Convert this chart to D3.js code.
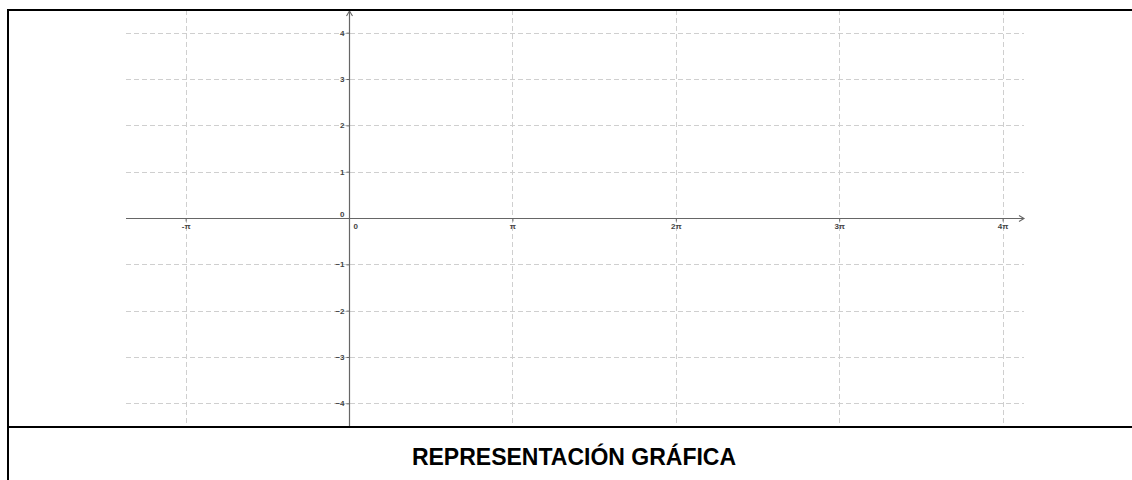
<!DOCTYPE html>
<html>
<head>
<meta charset="utf-8">
<script src="https://cdn.jsdelivr.net/npm/d3@7"></script>
<style>
  html, body { margin: 0; padding: 0; background: #fff; }
  svg { display: block; }
</style>
</head>
<body>
<svg id="chart" width="1132" height="480"></svg>
<script>
// ---- data ----
const titleText = "REPRESENTACIÓN GRÁFICA";
const xTicks = [-1, 0, 1, 2, 3, 4];              // multiples of π
const xTickLabels = ["-π", "0", "π", "2π", "3π", "4π"];
const yTicks = [-4, -3, -2, -1, 0, 1, 2, 3, 4];
const xDomain = [-1.365, 4.131];                 // in units of π
const yDomain = [-4.49, 4.49];

// ---- layout ----
const svg = d3.select("#chart");
const plot = { left: 126, right: 1024, top: 10, bottom: 426 };

const x = d3.scaleLinear().domain(xDomain).range([plot.left, plot.right]);
const y = d3.scaleLinear().domain(yDomain).range([plot.bottom, plot.top]);

const gridColor = "#cfcfcf";
const axisColor = "#666";

// gridlines
svg.append("g").selectAll("line.gx")
  .data(xTicks.filter(d => d !== 0))
  .join("line")
  .attr("x1", d => Math.round(x(d)) + 0.5).attr("x2", d => Math.round(x(d)) + 0.5)
  .attr("y1", plot.top).attr("y2", plot.bottom)
  .attr("stroke", gridColor).attr("stroke-width", 1).attr("stroke-dasharray", "5,3");

svg.append("g").selectAll("line.gy")
  .data(yTicks.filter(d => d !== 0))
  .join("line")
  .attr("y1", d => Math.round(y(d)) + 0.5).attr("y2", d => Math.round(y(d)) + 0.5)
  .attr("x1", plot.left).attr("x2", plot.right)
  .attr("stroke", gridColor).attr("stroke-width", 1).attr("stroke-dasharray", "5,3");

// x axis
const x0 = Math.round(y(0)) + 0.5;
const y0 = Math.round(x(0)) + 0.5;

const xAxis = d3.axisBottom(x)
  .tickValues(xTicks)
  .tickSize(3)
  .tickPadding(2)
  .tickFormat((d, i) => xTickLabels[i]);
const gx = svg.append("g").attr("transform", `translate(0,${x0})`).call(xAxis);
gx.select(".domain").remove();
gx.append("line").attr("x1", plot.left).attr("x2", plot.right).attr("y1", 0).attr("y2", 0)
  .attr("stroke", axisColor).attr("stroke-width", 1.2);
gx.append("path").attr("d", `M${plot.right - 5},-3L${plot.right},0L${plot.right - 5},3`)
  .attr("fill", "none").attr("stroke", axisColor).attr("stroke-width", 1.1);
gx.selectAll(".tick line").attr("stroke", axisColor);
gx.selectAll(".tick").filter(d => d === 0).select("line").remove();
gx.selectAll(".tick text")
  .attr("font-family", "'Liberation Sans', Arial, sans-serif")
  .attr("font-size", 8).attr("font-weight", "bold").attr("fill", "#444");
gx.selectAll(".tick").filter(d => d === 0).select("text")
  .attr("text-anchor", "start").attr("x", 4);

// y axis
const yAxis = d3.axisLeft(y)
  .tickValues(yTicks)
  .tickSize(3)
  .tickPadding(2)
  .tickFormat(d3.format("d"));
const gy = svg.append("g").attr("transform", `translate(${y0},0)`).call(yAxis);
gy.select(".domain").remove();
gy.append("line").attr("x1", 0).attr("x2", 0).attr("y1", plot.top + 1).attr("y2", plot.bottom)
  .attr("stroke", axisColor).attr("stroke-width", 1.2);
gy.append("path").attr("d", `M-3,${plot.top + 6}L0,${plot.top + 1}L3,${plot.top + 6}`)
  .attr("fill", "none").attr("stroke", axisColor).attr("stroke-width", 1.1);
gy.selectAll(".tick line").attr("stroke", axisColor);
gy.selectAll(".tick").filter(d => d === 0).select("line").remove();
gy.selectAll(".tick text")
  .attr("font-family", "'Liberation Sans', Arial, sans-serif")
  .attr("font-size", 8).attr("font-weight", "bold").attr("fill", "#444");
gy.selectAll(".tick").filter(d => d === 0).select("text").attr("dy", "-0.25em");

// frame
svg.append("line").attr("x1", 7).attr("x2", 1132).attr("y1", 10).attr("y2", 10)
  .attr("stroke", "#000").attr("stroke-width", 2);
svg.append("line").attr("x1", 8).attr("x2", 8).attr("y1", 9).attr("y2", 480)
  .attr("stroke", "#000").attr("stroke-width", 2);
svg.append("line").attr("x1", 7).attr("x2", 1132).attr("y1", 427).attr("y2", 427)
  .attr("stroke", "#000").attr("stroke-width", 2);

// title
svg.append("text")
  .attr("x", 574).attr("y", 465)
  .attr("text-anchor", "middle")
  .attr("font-family", "'Liberation Sans', Arial, sans-serif")
  .attr("font-weight", "bold")
  .attr("font-size", 23)
  .attr("fill", "#000")
  .text(titleText);
</script>
</body>
</html>
